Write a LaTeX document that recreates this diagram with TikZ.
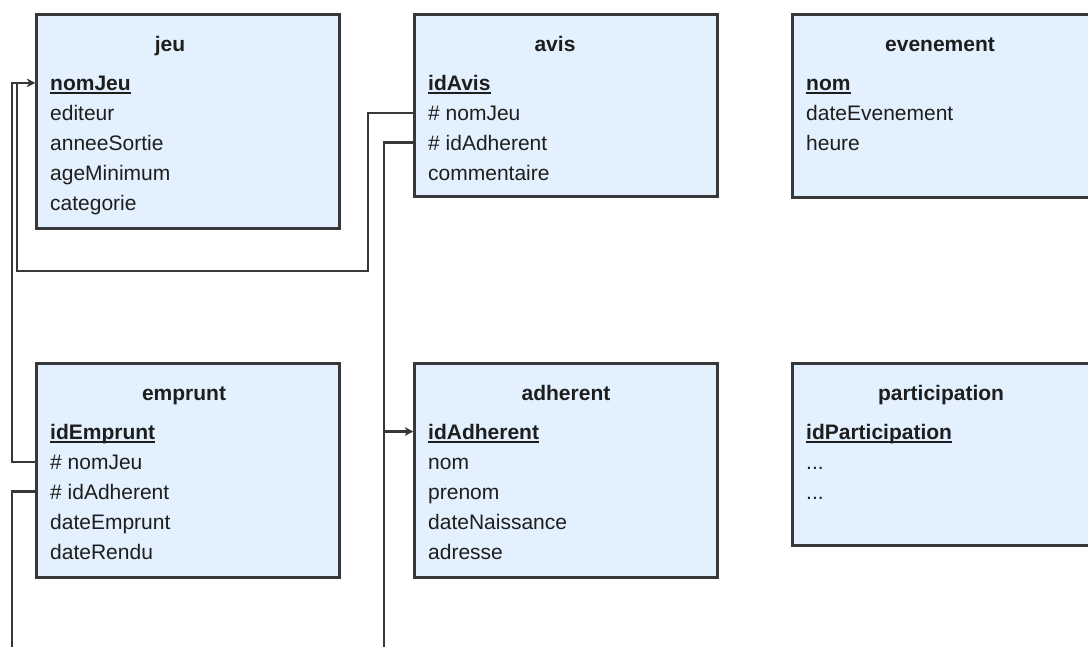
\documentclass[tikz,border=0pt]{standalone}
\usepackage{fontspec}
\setmainfont{Liberation Sans}
\usetikzlibrary{arrows.meta}
\definecolor{boxfill}{HTML}{E3F0FD}
\definecolor{boxline}{HTML}{383838}
\definecolor{linkcol}{HTML}{383838}
\definecolor{txtcol}{HTML}{1E1E1E}
\def\etc{...}
% one table: name, x, y, height, title offset, title, key, fields
\newcommand\ertable[8]{%
	\node[tablebox,minimum height=#4pt] (#1) at (#2,#3) {};
	\node[tabletitle] (#1-t) at (#2+#5,#3+38) {#6};
	\node[field] (#1-0) at (#2+15,#3+77) {\bfseries #7};
	\draw[keyline] ([yshift=-3pt]#1-0.base west) -- ([yshift=-3pt]#1-0.base east);
	\foreach \f [count=\i] in {#8}
	\node[field] (#1-\i) at (#2+15,#3+77+30*\i) {\f};
}
\begin{document}
\begin{tikzpicture}[x=1pt,y=-1pt,>={Stealth[length=8pt,width=8pt]}, font=\fontsize{21}{30}\selectfont]
	\tikzset{tablebox/.style={draw=boxline, line width=3pt, fill=boxfill, minimum width=303pt, anchor=north west, inner sep=0pt},
		tabletitle/.style={anchor=base, inner sep=0pt, text=txtcol, font=\fontsize{21}{30}\selectfont\bfseries},
		field/.style={anchor=base west, inner sep=0pt, text=txtcol},
		keyline/.style={draw=txtcol, line width=1.8pt},
		link/.style={draw=linkcol, line width=2.6pt}}
	\clip (0,0) rectangle (1088,646);
	\ertable{jeu}{35}{13}{214}{135}{jeu}{nomJeu}{editeur,anneeSortie,ageMinimum,categorie}
	\ertable{avis}{413}{13}{182}{142}{avis}{idAvis}{\# nomJeu,\# idAdherent,commentaire}
	\ertable{evenement}{791}{13}{183}{149}{evenement}{nom}{dateEvenement,heure}
	\ertable{emprunt}{35}{362}{214}{149}{emprunt}{idEmprunt}{\# nomJeu,\# idAdherent,dateEmprunt,dateRendu}
	\ertable{adherent}{413}{362}{214}{153}{adherent}{idAdherent}{nom,prenom,dateNaissance,adresse}
	\ertable{participation}{791}{362}{182}{150}{participation}{idParticipation}{\etc,\etc}
	% foreign keys
	\draw[link,->] (avis.west |- avis-1.west) -- ++(-45,0) |- (17,271) |- (jeu.west |- jeu-0.west);
	\draw[link,->] (emprunt.west |- emprunt-1.west) -- ++(-23,0) |- (jeu.west |- jeu-0.west);
	\draw[link,->] (avis.west |- avis-2.west) -- ++(-29,0) |- (adherent.west |- adherent-0.west);
	\draw[link,->] (emprunt.west |- emprunt-2.west) -- ++(-23,0) -- (12,700) -- (384,700) |- (adherent.west |- adherent-0.west);
\end{tikzpicture}
\end{document}
